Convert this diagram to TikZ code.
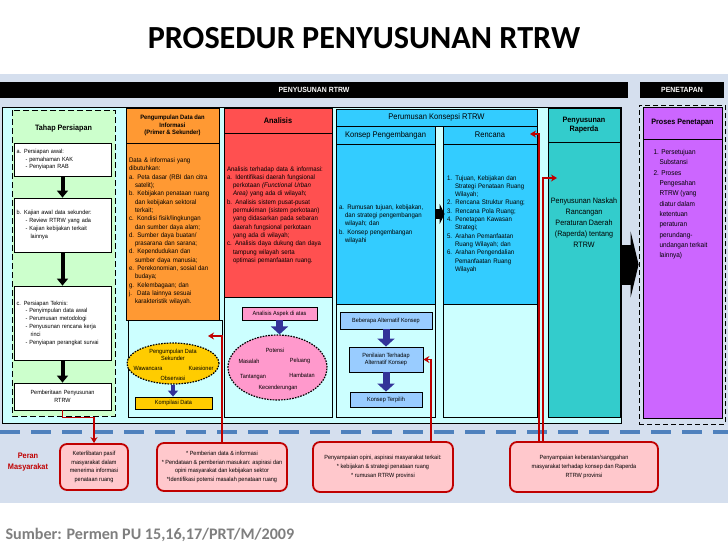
\documentclass[tikz,border=0pt]{standalone}
\usepackage{fontspec}
\setmainfont{Liberation Sans}
\newfontfamily\narrowsf[FakeStretch=0.92]{Liberation Sans}
\newfontfamily\calibsf{Carlito}
\usetikzlibrary{arrows.meta, shapes.geometric, calc, positioning}
\definecolor{Panel}     {HTML}{D5DFEE}
\definecolor{Aqua}      {HTML}{CCFFFF}
\definecolor{Leaf}      {HTML}{CCFFCC}
\definecolor{Tangerine} {HTML}{FF9933}
\definecolor{Coral}     {HTML}{FF5050}
\definecolor{Sky}       {HTML}{33CCFF}
\definecolor{Powder}    {HTML}{99CCFF}
\definecolor{TealBox}   {HTML}{33CCCC}
\definecolor{Orchid}    {HTML}{CC66FF}
\definecolor{Rose}      {HTML}{FF99CC}
\definecolor{Gold}      {HTML}{FFCC00}
\definecolor{Navy}      {HTML}{333399}
\definecolor{Maroon}    {HTML}{C00000}
\definecolor{Blush}     {HTML}{FFC8CC}
\definecolor{Steel}     {HTML}{4F81BD}
\definecolor{Slate}     {HTML}{7F7F7F}
\newcommand{\hang}[1][6pt]{\hspace*{#1}}

\begin{document}
\begin{tikzpicture}[x=1pt, y=-1pt,
  bodytxt/.style={font=\narrowsf\fontsize{6.6}{8.3}\selectfont},
  smalltxt/.style={font=\narrowsf\fontsize{6}{7.8}\selectfont},
  boldhead/.style={font=\narrowsf\bfseries\fontsize{7.8}{9.4}\selectfont},
  plainhead/.style={font=\narrowsf\fontsize{8.2}{9.4}\selectfont},
  colbox/.style={draw, line width=0.8pt, inner sep=3pt},
  whitebox/.style={colbox, fill=white, inner sep=2.5pt, text width=92pt, align=left, smalltxt},
  tagbox/.style={colbox, inner sep=1pt, align=center, smalltxt},
  blob/.style={ellipse, draw, line width=1.2pt, dash pattern=on 1.6pt off 1.2pt},
  blkarrow/.style={line width=4pt, -{Triangle[length=7pt, width=11pt]}},
  navyarrow/.style={Navy, line width=7pt, -{Triangle[length=8pt, width=17pt]}},
  redlink/.style={Maroon, line width=1.8pt, -{Stealth[length=6pt, width=7pt]}},
  peranbox/.style={draw=Maroon, fill=Blush, line width=1.8pt, rounded corners=7pt,
                   align=center, inner sep=2pt, font=\narrowsf\fontsize{6}{8.6}\selectfont},
  barhead/.style={fill=black, text=white, minimum height=16pt, inner sep=0pt,
                  font=\narrowsf\bfseries\fontsize{7.5}{9}\selectfont}]

  \useasboundingbox (0,0) rectangle (728,546);
  \fill[white] (0,0) rectangle (728,546);
  % Title
  \node[font=\calibsf\bfseries\fontsize{32.2}{36}\selectfont] (title) at (364,38)
    {PROSEDUR PENYUSUNAN RTRW};
  % Panel and bars
  \fill[Panel] (0,74) rectangle (728,503);
  \node[barhead, minimum width=628pt] (barSusun) at (314,90) {PENYUSUNAN RTRW};
  \node[barhead, minimum width=84pt] (barTetap) at (682,90) {PENETAPAN};
  \draw[fill=Aqua, line width=0.8pt] (2,107) rectangle (621,423);

  % Tahap Persiapan
  \draw[fill=Leaf, line width=0.8pt, dash pattern=on 6pt off 3pt] (12,110) rectangle (115,416);
  \node[boldhead] (tahap) at (63.5,128) {Tahap Persiapan};
  \node[whitebox, minimum height=33pt] (persA) at (62.5,159.5)
    {a. Persiapan awal:\\\hang[9pt]- pemahaman KAK\\\hang[9pt]- Penyiapan RAB};
  \node[whitebox, minimum height=54pt] (persB) at (62.5,225)
    {b. Kajian awal data sekunder:\\\hang[9pt]- Review RTRW yang ada\\
     \hang[9pt]- Kajian kebijakan terkait\\\hang[14pt]lainnya};
  \node[whitebox, minimum height=74pt] (persC) at (62.5,323)
    {c. Persiapan Teknis:\\\hang[9pt]- Penyimpulan data awal\\\hang[9pt]- Perumusan metodologi\\
     \hang[9pt]- Penyusunan rencana kerja\\\hang[14pt]rinci\\\hang[9pt]- Penyiapan perangkat survai};
  \node[whitebox, align=center, minimum height=27pt] (pemb) at (62.5,396.5)
    {Pemberitaan Penyusunan\\RTRW};
  \draw[blkarrow] (persA) -- (persB);
  \draw[blkarrow] (persB) -- (persC);
  \draw[blkarrow] (persC) -- (pemb);

  % Pengumpulan Data
  \node[colbox, fill=Tangerine, minimum width=93pt, minimum height=35pt, align=center,
        font=\narrowsf\bfseries\fontsize{6.3}{7.2}\selectfont] (kumpulHead) at (172.5,125.5)
    {Pengumpulan Data dan\\Informasi\\(Primer \& Sekunder)};
  \node[colbox, fill=Tangerine, text width=87pt, minimum height=177pt, align=left, bodytxt]
    (kumpulBody) at (172.5,231.5)
    {Data \& informasi yang\\dibutuhkan:\\a. Peta dasar (RBI dan citra\\\hang satelit);\\
     b. Kebijakan penataan ruang\\\hang dan kebijakan sektoral\\\hang terkait;\\
     c. Kondisi fisik/lingkungan\\\hang dan sumber daya alam;\\
     d. Sumber daya buatan/\\\hang prasarana dan sarana;\\
     d. Kependudukan dan\\\hang sumber daya manusia;\\
     e. Perekonomian, sosial dan\\\hang budaya;\\
     g. Kelembagaan; dan\\j.\hang[3pt] Data lainnya sesuai\\\hang karakteristik wilayah.};
  \node[colbox, fill=Aqua, minimum width=94pt, minimum height=97pt] (kumpulLow) at (175,368.5) {};
  \node[blob, fill=Gold, minimum width=92pt, minimum height=41pt] (kumpulEll) at (173,363.5) {};
  \node[smalltxt, align=center, font=\narrowsf\fontsize{6}{7}\selectfont] (wSekunder) at (173,354.5)
    {Pengumpulan Data\\Sekunder};
  \node[smalltxt] (wWawancara) at (148,368) {Wawancara};
  \node[smalltxt] (wKuesioner) at (201,368) {Kuesioner};
  \node[smalltxt] (wObservasi) at (173,378.5) {Observasi};
  \node[tagbox, fill=Gold, minimum width=77pt, minimum height=12pt] (kompilasi) at (173.5,403)
    {Kompilasi Data};
  \draw[navyarrow, line width=4pt, -{Triangle[length=6pt, width=10pt]}]
    (kumpulEll.south) -- (kumpulEll.south |- kompilasi.north);

  % Analisis
  \node[colbox, fill=Coral, minimum width=108pt, minimum height=25pt,
        font=\narrowsf\bfseries\fontsize{8}{9}\selectfont] (anaHead) at (278,120.5) {Analisis};
  \node[colbox, fill=Coral, text width=102pt, minimum height=164pt, align=left, bodytxt]
    (anaBody) at (278,215)
    {Analisis terhadap data \& informasi:\\a. Identifikasi daerah fungsional\\
     \hang perkotaan \textit{(Functional Urban}\\\hang \textit{Area)} yang ada di wilayah;\\
     b. Analisis sistem pusat-pusat\\\hang permukiman (sistem perkotaan)\\
     \hang yang didasarkan pada sebaran\\\hang daerah fungsional perkotaan\\
     \hang yang ada di wilayah;\\c. Analisis daya dukung dan daya\\
     \hang tampung wilayah serta\\\hang optimasi pemanfaatan ruang.};
  \node[colbox, fill=Aqua, minimum width=108pt, minimum height=120pt] (anaLow) at (278,357) {};
  \node[tagbox, fill=Rose, minimum width=75pt, minimum height=13pt] (aspek) at (279.5,313.5)
    {Analisis Aspek di atas};
  \node[blob, fill=Rose, minimum width=99pt, minimum height=65pt] (aspekEll) at (277.5,367.5) {};
  \node[smalltxt] (wPotensi) at (275,350) {Potensi};
  \node[smalltxt] (wMasalah) at (249,361) {Masalah};
  \node[smalltxt] (wPeluang) at (300,361) {Peluang};
  \node[smalltxt] (wTantangan) at (253,377) {Tantangan};
  \node[smalltxt] (wHambatan) at (302,375) {Hambatan};
  \node[smalltxt] (wKecenderungan) at (278,388) {Kecenderungan};
  \draw[navyarrow] (aspek.south) -- (aspek.south |- aspekEll.north);

  % Perumusan Konsepsi
  \node[colbox, fill=Sky, minimum width=201pt, minimum height=17pt, plainhead] (rumusHead)
    at (436.5,117.5) {Perumusan Konsepsi RTRW};
  \node[colbox, fill=Sky, minimum width=99pt, minimum height=18pt, plainhead] (konsepHead)
    at (385.5,135) {Konsep Pengembangan};
  \node[colbox, fill=Sky, minimum width=94pt, minimum height=18pt, plainhead] (rencanaHead)
    at (490,135) {Rencana};
  \node[colbox, fill=Sky, text width=93pt, minimum height=160pt, align=left, bodytxt]
    (konsepBody) at (385.5,224)
    {a. Rumusan tujuan, kebijakan,\\\hang dan strategi pengembangan\\\hang wilayah; dan\\
     b. Konsep pengembangan\\\hang wilayahi};
  \node[colbox, fill=Sky, text width=86pt, inner sep=4pt, minimum height=160pt, align=left, bodytxt]
    (rencanaBody) at (490,224)
    {1. Tujuan, Kebijakan dan\\\hang[8pt]Strategi Penataan Ruang\\\hang[8pt]Wilayah;\\
     2. Rencana Struktur Ruang;\\3. Rencana Pola Ruang;\\4. Penetapan Kawasan\\
     \hang[8pt]Strategi;\\5. Arahan Pemanfaatan\\\hang[8pt]Ruang Wilayah; dan\\
     6. Arahan Pengendalian\\\hang[8pt]Pemanfaatan Ruang\\\hang[8pt]Wilayah};
  \node[colbox, fill=Aqua, minimum width=99pt, minimum height=113pt] (konsepLow) at (385.5,360.5) {};
  \node[colbox, fill=Aqua, minimum width=94pt, minimum height=113pt] (rencanaLow) at (490,360.5) {};
  \node[tagbox, fill=Powder, minimum width=92pt, minimum height=17pt] (alternatif) at (386,320.5)
    {Beberapa Alternatif Konsep};
  \node[tagbox, fill=Powder, minimum width=74pt, minimum height=25pt] (penilaian) at (386,359.5)
    {Penilaian Terhadap\\Alternatif Konsep};
  \node[tagbox, fill=Powder, minimum width=72pt, minimum height=15pt] (terpilih) at (386,399.5)
    {Konsep Terpilih};
  \draw[navyarrow] (alternatif) -- (penilaian);
  \draw[navyarrow] (penilaian) -- (terpilih);
  \draw[line width=10pt, -{Triangle[length=5pt, width=20pt]}]
    ([yshift=10pt]konsepBody.east) -- ([yshift=10pt, xshift=2pt]rencanaBody.west);

  % Raperda
  \node[colbox, fill=TealBox, minimum width=72pt, minimum height=34pt, boldhead, align=center]
    (raperdaHead) at (584,125) {Penyusunan\\Raperda};
  \node[colbox, fill=TealBox, minimum width=72pt, minimum height=275pt] (raperdaBody) at (584,279.5) {};
  \node[align=center, font=\narrowsf\fontsize{7.8}{11}\selectfont] (raperdaTxt) at (584,223)
    {Penyusunan Naskah\\Rancangan\\Peraturan Daerah\\(Raperda) tentang\\RTRW};

  % Penetapan
  \node[draw, line width=0.8pt, dash pattern=on 5pt off 3pt, minimum width=86pt,
        minimum height=319pt] (tetapBox) at (682,264.5) {};
  \node[colbox, fill=Orchid, minimum width=79pt, minimum height=32pt, boldhead] (tetapHead)
    at (682.5,123) {Proses Penetapan};
  \node[colbox, fill=Orchid, minimum width=79pt, minimum height=279pt] (tetapBody) at (682.5,278.5) {};
  \node[anchor=north west, align=left, font=\narrowsf\fontsize{7}{10.3}\selectfont] (tetapTxt)
    at (650,146)
    {1. Persetujuan\\\hang Substansi\\2. Proses\\\hang Pengesahan\\\hang RTRW (yang\\
     \hang diatur dalam\\\hang ketentuan\\\hang peraturan\\\hang perundang-\\
     \hang undangan terkait\\\hang lainnya)};
  \draw[line width=40pt, -{Triangle[length=8pt, width=66pt]}]
    (raperdaBody.east |- tetapBox.west) -- (tetapBox.west);

  % Peran Masyarakat
  \draw[Steel, line width=3.5pt, dash pattern=on 20pt off 11pt] (0,432) -- (728,432);
  \node[font=\narrowsf\bfseries\fontsize{8}{11}\selectfont, text=Maroon, align=center] (peran)
    at (28,462) {Peran\\Masyarakat};
  \node[peranbox, minimum width=68pt, minimum height=46pt] (box1) at (94,467)
    {Keterlibatan pasif\\masyarakat dalam\\menerima informasi\\penataan ruang};
  \node[peranbox, minimum width=130pt, minimum height=48pt] (box2) at (222,467)
    {* Pemberian data \& informasi\\* Pendataan \& pemberian masukan: aspirasi dan\\
     opini masyarakat dan kebijakan sektor\\*Identifikasi potensi masalah penataan ruang};
  \node[peranbox, minimum width=140pt, minimum height=50pt] (box3) at (383,467)
    {Penyampaian opini, aspirasi masyarakat terkait:\\* kebijakan \& strategi penataan ruang\\
     * rumusan RTRW provinsi};
  \node[peranbox, minimum width=148pt, minimum height=50pt] (box4) at (584,467)
    {Penyampaian keberatan/sanggahan\\masyarakat terhadap konsep dan Raperda\\RTRW provinsi};

  % connectors
  \coordinate (kumpulIn) at (208,336);
  \coordinate (rencanaIn) at (530,134);
  \coordinate (raperdaIn) at (557,178);
  \draw[redlink] (pemb.south) -- ++(0,7) -| (box1.north);
  \draw[redlink] (box2.north) |- (kumpulIn);
  \draw[redlink] ([xshift=48pt]box3.north) |- (penilaian.east);
  \draw[redlink] ([xshift=-45pt]box4.north) |- (rencanaIn);
  \draw[redlink] ([xshift=-41pt]box4.north) |- (raperdaIn);

  \node[anchor=west, text=Slate, font=\calibsf\bfseries\fontsize{16.1}{19}\selectfont] (sumber)
    at (2,535) {Sumber: Permen PU 15,16,17/PRT/M/2009};
\end{tikzpicture}
\end{document}
